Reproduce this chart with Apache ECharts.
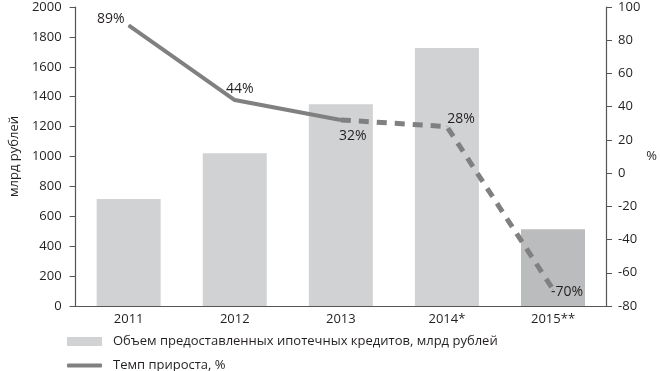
<!DOCTYPE html>
<html><head><meta charset="utf-8">
<script src="https://cdn.jsdelivr.net/npm/echarts@6/dist/echarts.min.js"></script>
<style>html,body{margin:0;padding:0;background:#fff}#c{width:660px;height:371px}</style>
</head><body><div id="c"></div>
<script>
const categories = ['2011', '2012', '2013', '2014*', '2015**'];
const volumes = [715, 1022, 1350, 1726, 513];
const growthSolid = [89, 44, 32, null, null];
const growthDashed = [null, null, 32, 28, -70];
const leftTicks = [0, 2000, 200];
const rightTicks = [-80, 100, 20];

const FONT = '"Open Sans", "Noto Sans", sans-serif';
const TXT = '#231f20';
const AX = '#555';
const LINE = '#808080';

const barData = volumes.map((v, i) => ({
  value: v,
  itemStyle: { color: i === 4 ? '#bbbcbe' : '#d1d2d4' }
}));
const solidOffsets = [[-18, -6], [5, -11], [12, 16]];
const solidData = growthSolid.map((v, i) => v === null ? null : ({
  value: v,
  label: { show: true, position: 'inside', offset: solidOffsets[i], formatter: v + '%' }
}));
const dashedOffsets = {3: [14, -8], 4: [14, 3]};
const dashedData = growthDashed.map((v, i) => v === null ? null : ({
  value: v,
  label: dashedOffsets[i] ? { show: true, position: 'inside', offset: dashedOffsets[i], formatter: v + '%' } : { show: false }
}));

const legendText = { fontFamily: FONT, fontSize: 13, color: TXT, padding: [0, 0, 0, 6] };

const chart = echarts.init(document.getElementById('c'), null, { renderer: 'canvas' });
chart.setOption({
  animation: false,
  textStyle: { fontFamily: FONT },
  grid: { left: 67, right: 46, top: 7, bottom: 65 },
  legend: [
    {
      left: 62, top: 330, itemWidth: 35, itemHeight: 9, textStyle: legendText,
      data: [{ name: 'Объем предоставленных ипотечных кредитов, млрд рублей', icon: 'rect', itemStyle: { color: '#d1d2d4' } }]
    },
    {
      left: 62, top: 354, itemWidth: 35, itemHeight: 4, textStyle: legendText,
      data: [{ name: 'Темп прироста, %', icon: 'roundRect', itemStyle: { color: LINE } }]
    }
  ],
  xAxis: {
    type: 'category', data: categories,
    axisLine: { lineStyle: { color: AX, width: 1.2 } },
    axisTick: { show: false },
    axisLabel: { color: TXT, fontSize: 13, margin: 7, fontFamily: FONT }
  },
  yAxis: [
    {
      type: 'value', min: leftTicks[0], max: leftTicks[1], interval: leftTicks[2],
      name: 'млрд рублей', nameLocation: 'middle', nameGap: 50, nameRotate: 90,
      nameTextStyle: { color: TXT, fontSize: 13, fontFamily: FONT },
      axisLine: { show: true, lineStyle: { color: AX, width: 1.2 } },
      axisTick: { show: true, length: 6, lineStyle: { color: AX } },
      axisLabel: { color: TXT, fontSize: 13, margin: 14, fontFamily: FONT, formatter: v => String(v) },
      splitLine: { show: false }
    },
    {
      type: 'value', min: rightTicks[0], max: rightTicks[1], interval: rightTicks[2],
      name: '%', nameLocation: 'middle', nameGap: 38, nameRotate: 0,
      nameTextStyle: { color: TXT, fontSize: 13, fontFamily: FONT },
      axisLine: { show: true, lineStyle: { color: AX, width: 1.2 } },
      axisTick: { show: true, length: 6, lineStyle: { color: AX } },
      axisLabel: { color: TXT, fontSize: 13, margin: 12, fontFamily: FONT, formatter: v => String(v) },
      splitLine: { show: false }
    }
  ],
  series: [
    {
      name: 'Объем предоставленных ипотечных кредитов, млрд рублей',
      type: 'bar', yAxisIndex: 0, barWidth: 64, data: barData,
      itemStyle: { color: '#d1d2d4' }
    },
    {
      name: 'Темп прироста, %', type: 'line', yAxisIndex: 1,
      data: solidData, symbol: 'circle', symbolSize: 1, showSymbol: true, connectNulls: false,
      lineStyle: { color: LINE, width: 4 }, itemStyle: { color: LINE },
      label: { color: TXT, fontSize: 14, fontFamily: FONT }
    },
    {
      name: 'dashed', type: 'line', yAxisIndex: 1,
      data: dashedData, symbol: 'circle', symbolSize: 1, showSymbol: true, connectNulls: false,
      lineStyle: { color: LINE, width: 5, type: [10, 8] }, itemStyle: { color: LINE },
      label: { color: TXT, fontSize: 14, fontFamily: FONT }
    }
  ]
});
</script></body></html>
